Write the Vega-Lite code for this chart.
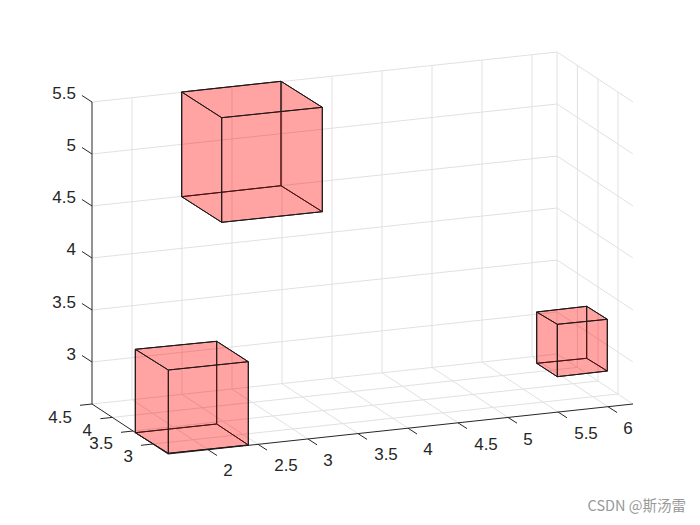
{"$schema":"https://vega.github.io/schema/vega-lite/v6.json","width":700,"height":525,"padding":0,"autosize":{"type":"fit","contains":"padding"},"background":"white","config":{"view":{"stroke":null}},
"datasets":{
"grid":[
{"g":"z5.5","i":0,"u":92,"v":102},{"g":"z5.5","i":1,"u":557,"v":52},{"g":"z5.5","i":2,"u":633,"v":102},
{"g":"z5","i":0,"u":92,"v":154},{"g":"z5","i":1,"u":557,"v":104},{"g":"z5","i":2,"u":633,"v":154},
{"g":"z4.5","i":0,"u":92,"v":206},{"g":"z4.5","i":1,"u":557,"v":156},{"g":"z4.5","i":2,"u":633,"v":206},
{"g":"z4","i":0,"u":92,"v":258},{"g":"z4","i":1,"u":557,"v":208},{"g":"z4","i":2,"u":633,"v":258},
{"g":"z3.5","i":0,"u":92,"v":310},{"g":"z3.5","i":1,"u":557,"v":260},{"g":"z3.5","i":2,"u":633,"v":310},
{"g":"z3","i":0,"u":92,"v":362},{"g":"z3","i":1,"u":557,"v":312},{"g":"z3","i":2,"u":633,"v":362},
{"g":"x2","i":0,"u":132,"v":97.7},{"g":"x2","i":1,"u":132,"v":399.7},{"g":"x2","i":2,"u":208,"v":449.7},
{"g":"x2.5","i":0,"u":182,"v":92.3},{"g":"x2.5","i":1,"u":182,"v":394.3},{"g":"x2.5","i":2,"u":258,"v":444.3},
{"g":"x3","i":0,"u":232,"v":87},{"g":"x3","i":1,"u":232,"v":389},{"g":"x3","i":2,"u":308,"v":439},
{"g":"x3.5","i":0,"u":282,"v":81.6},{"g":"x3.5","i":1,"u":282,"v":383.6},{"g":"x3.5","i":2,"u":358,"v":433.6},
{"g":"x4","i":0,"u":332,"v":76.2},{"g":"x4","i":1,"u":332,"v":378.2},{"g":"x4","i":2,"u":408,"v":428.2},
{"g":"x4.5","i":0,"u":382,"v":70.8},{"g":"x4.5","i":1,"u":382,"v":372.8},{"g":"x4.5","i":2,"u":458,"v":422.8},
{"g":"x5","i":0,"u":432,"v":65.4},{"g":"x5","i":1,"u":432,"v":367.4},{"g":"x5","i":2,"u":508,"v":417.4},
{"g":"x5.5","i":0,"u":482,"v":60},{"g":"x5.5","i":1,"u":482,"v":362},{"g":"x5.5","i":2,"u":558,"v":412},
{"g":"x6","i":0,"u":532,"v":54.7},{"g":"x6","i":1,"u":532,"v":356.7},{"g":"x6","i":2,"u":608,"v":406.7},
{"g":"y4","i":0,"u":112.4,"v":417.4},{"g":"y4","i":1,"u":577.4,"v":367.4},{"g":"y4","i":2,"u":577.4,"v":65.4},
{"g":"y3.5","i":0,"u":133,"v":431},{"g":"y3.5","i":1,"u":598,"v":381},{"g":"y3.5","i":2,"u":598,"v":79},
{"g":"y3","i":0,"u":153,"v":444},{"g":"y3","i":1,"u":618,"v":394},{"g":"y3","i":2,"u":618,"v":92},
{"g":"corner","i":0,"u":557,"v":52},{"g":"corner","i":1,"u":557,"v":354},
{"g":"floor","i":0,"u":92,"v":404},{"g":"floor","i":1,"u":557,"v":354},{"g":"floor","i":2,"u":633,"v":404}
],
"axes":[
{"g":"zaxis","i":0,"u":92,"v":102},{"g":"zaxis","i":1,"u":92,"v":404},{"g":"zaxis","i":2,"u":168,"v":454},{"g":"zaxis","i":3,"u":633,"v":404},
{"g":"tz5.5","i":0,"u":92,"v":102},{"g":"tz5.5","i":1,"u":82,"v":95.5},
{"g":"tz5","i":0,"u":92,"v":154},{"g":"tz5","i":1,"u":82,"v":147.5},
{"g":"tz4.5","i":0,"u":92,"v":206},{"g":"tz4.5","i":1,"u":82,"v":199.5},
{"g":"tz4","i":0,"u":92,"v":258},{"g":"tz4","i":1,"u":82,"v":251.5},
{"g":"tz3.5","i":0,"u":92,"v":310},{"g":"tz3.5","i":1,"u":82,"v":303.5},
{"g":"tz3","i":0,"u":92,"v":362},{"g":"tz3","i":1,"u":82,"v":355.5},
{"g":"ty4.5","i":0,"u":92,"v":404},{"g":"ty4.5","i":1,"u":80,"v":405.3},
{"g":"ty4","i":0,"u":112.4,"v":417.4},{"g":"ty4","i":1,"u":100.4,"v":418.7},
{"g":"ty3.5","i":0,"u":133,"v":431},{"g":"ty3.5","i":1,"u":121,"v":432.3},
{"g":"ty3","i":0,"u":153,"v":444},{"g":"ty3","i":1,"u":141,"v":445.3},
{"g":"tx2","i":0,"u":208,"v":449.7},{"g":"tx2","i":1,"u":217,"v":455.5},
{"g":"tx2.5","i":0,"u":258,"v":444.3},{"g":"tx2.5","i":1,"u":267,"v":450.1},
{"g":"tx3","i":0,"u":308,"v":439},{"g":"tx3","i":1,"u":317,"v":444.8},
{"g":"tx3.5","i":0,"u":358,"v":433.6},{"g":"tx3.5","i":1,"u":367,"v":439.4},
{"g":"tx4","i":0,"u":408,"v":428.2},{"g":"tx4","i":1,"u":417,"v":434},
{"g":"tx4.5","i":0,"u":458,"v":422.8},{"g":"tx4.5","i":1,"u":467,"v":428.6},
{"g":"tx5","i":0,"u":508,"v":417.4},{"g":"tx5","i":1,"u":517,"v":423.2},
{"g":"tx5.5","i":0,"u":558,"v":412},{"g":"tx5.5","i":1,"u":567,"v":417.8},
{"g":"tx6","i":0,"u":608,"v":406.7},{"g":"tx6","i":1,"u":617,"v":412.5}
],
"faces":[
{"g":"a1","i":0,"u":135.3,"v":349.3},{"g":"a1","i":1,"u":216.7,"v":341.3},{"g":"a1","i":2,"u":248.3,"v":361.7},{"g":"a1","i":3,"u":168.3,"v":370},{"g":"a1","i":4,"u":135.3,"v":349.3},
{"g":"a2","i":0,"u":135.3,"v":432.7},{"g":"a2","i":1,"u":216.7,"v":424},{"g":"a2","i":2,"u":248.3,"v":445},{"g":"a2","i":3,"u":168.3,"v":453.3},{"g":"a2","i":4,"u":135.3,"v":432.7},
{"g":"a3","i":0,"u":135.3,"v":349.3},{"g":"a3","i":1,"u":216.7,"v":341.3},{"g":"a3","i":2,"u":216.7,"v":424},{"g":"a3","i":3,"u":135.3,"v":432.7},{"g":"a3","i":4,"u":135.3,"v":349.3},
{"g":"a4","i":0,"u":216.7,"v":341.3},{"g":"a4","i":1,"u":248.3,"v":361.7},{"g":"a4","i":2,"u":248.3,"v":445},{"g":"a4","i":3,"u":216.7,"v":424},{"g":"a4","i":4,"u":216.7,"v":341.3},
{"g":"a5","i":0,"u":248.3,"v":361.7},{"g":"a5","i":1,"u":168.3,"v":370},{"g":"a5","i":2,"u":168.3,"v":453.3},{"g":"a5","i":3,"u":248.3,"v":445},{"g":"a5","i":4,"u":248.3,"v":361.7},
{"g":"a6","i":0,"u":168.3,"v":370},{"g":"a6","i":1,"u":135.3,"v":349.3},{"g":"a6","i":2,"u":135.3,"v":432.7},{"g":"a6","i":3,"u":168.3,"v":453.3},{"g":"a6","i":4,"u":168.3,"v":370},
{"g":"b1","i":0,"u":181.7,"v":92},{"g":"b1","i":1,"u":281,"v":81.3},{"g":"b1","i":2,"u":322.3,"v":107.3},{"g":"b1","i":3,"u":221.7,"v":117.7},{"g":"b1","i":4,"u":181.7,"v":92},
{"g":"b2","i":0,"u":181.7,"v":196.7},{"g":"b2","i":1,"u":281,"v":185.7},{"g":"b2","i":2,"u":322.3,"v":211.7},{"g":"b2","i":3,"u":221.7,"v":222.3},{"g":"b2","i":4,"u":181.7,"v":196.7},
{"g":"b3","i":0,"u":181.7,"v":92},{"g":"b3","i":1,"u":281,"v":81.3},{"g":"b3","i":2,"u":281,"v":185.7},{"g":"b3","i":3,"u":181.7,"v":196.7},{"g":"b3","i":4,"u":181.7,"v":92},
{"g":"b4","i":0,"u":281,"v":81.3},{"g":"b4","i":1,"u":322.3,"v":107.3},{"g":"b4","i":2,"u":322.3,"v":211.7},{"g":"b4","i":3,"u":281,"v":185.7},{"g":"b4","i":4,"u":281,"v":81.3},
{"g":"b5","i":0,"u":322.3,"v":107.3},{"g":"b5","i":1,"u":221.7,"v":117.7},{"g":"b5","i":2,"u":221.7,"v":222.3},{"g":"b5","i":3,"u":322.3,"v":211.7},{"g":"b5","i":4,"u":322.3,"v":107.3},
{"g":"b6","i":0,"u":221.7,"v":117.7},{"g":"b6","i":1,"u":181.7,"v":92},{"g":"b6","i":2,"u":181.7,"v":196.7},{"g":"b6","i":3,"u":221.7,"v":222.3},{"g":"b6","i":4,"u":221.7,"v":117.7},
{"g":"c1","i":0,"u":536.7,"v":312},{"g":"c1","i":1,"u":586.7,"v":306.3},{"g":"c1","i":2,"u":607.3,"v":319.3},{"g":"c1","i":3,"u":557.3,"v":324.3},{"g":"c1","i":4,"u":536.7,"v":312},
{"g":"c2","i":0,"u":536.7,"v":363.3},{"g":"c2","i":1,"u":586.7,"v":358.3},{"g":"c2","i":2,"u":607.3,"v":371},{"g":"c2","i":3,"u":557.3,"v":376.7},{"g":"c2","i":4,"u":536.7,"v":363.3},
{"g":"c3","i":0,"u":536.7,"v":312},{"g":"c3","i":1,"u":586.7,"v":306.3},{"g":"c3","i":2,"u":586.7,"v":358.3},{"g":"c3","i":3,"u":536.7,"v":363.3},{"g":"c3","i":4,"u":536.7,"v":312},
{"g":"c4","i":0,"u":586.7,"v":306.3},{"g":"c4","i":1,"u":607.3,"v":319.3},{"g":"c4","i":2,"u":607.3,"v":371},{"g":"c4","i":3,"u":586.7,"v":358.3},{"g":"c4","i":4,"u":586.7,"v":306.3},
{"g":"c5","i":0,"u":607.3,"v":319.3},{"g":"c5","i":1,"u":557.3,"v":324.3},{"g":"c5","i":2,"u":557.3,"v":376.7},{"g":"c5","i":3,"u":607.3,"v":371},{"g":"c5","i":4,"u":607.3,"v":319.3},
{"g":"c6","i":0,"u":557.3,"v":324.3},{"g":"c6","i":1,"u":536.7,"v":312},{"g":"c6","i":2,"u":536.7,"v":363.3},{"g":"c6","i":3,"u":557.3,"v":376.7},{"g":"c6","i":4,"u":557.3,"v":324.3}
],
"rightLabels":[
{"t":"5.5","u":76,"v":93},{"t":"5","u":76,"v":145},{"t":"4.5","u":76,"v":197},{"t":"4","u":76,"v":249},{"t":"3.5","u":76,"v":302},{"t":"3","u":76,"v":354},
{"t":"4.5","u":72,"v":417},{"t":"4","u":92,"v":430},{"t":"3.5","u":113,"v":443},{"t":"3","u":133,"v":456}
],
"centerLabels":[
{"t":"2","u":228,"v":470},{"t":"2.5","u":286,"v":465},{"t":"3","u":328,"v":460},{"t":"3.5","u":386,"v":454},{"t":"4","u":428,"v":449},{"t":"4.5","u":486,"v":444},{"t":"5","u":528,"v":439},{"t":"5.5","u":586,"v":433},{"t":"6","u":628,"v":428}
],
"mark":[{"t":"CSDN @斯汤雷","u":686,"v":507}]
},
"encoding":{
"x":{"field":"u","type":"quantitative","axis":null,"scale":{"domain":[0,700],"nice":false,"zero":false}},
"y":{"field":"v","type":"quantitative","axis":null,"scale":{"domain":[525,0],"nice":false,"zero":false}}
},
"layer":[
{"data":{"name":"grid"},"mark":{"type":"line","stroke":"#e1e1e1","strokeWidth":1,"interpolate":"linear"},"encoding":{"detail":{"field":"g"},"order":{"field":"i"}}},
{"data":{"name":"axes"},"mark":{"type":"line","stroke":"#262626","strokeWidth":1,"interpolate":"linear"},"encoding":{"detail":{"field":"g"},"order":{"field":"i"}}},
{"data":{"name":"faces"},"mark":{"type":"line","stroke":"#1a1a1a","strokeWidth":1,"fill":"#ff0000","fillOpacity":0.2,"interpolate":"linear"},"encoding":{"detail":{"field":"g"},"order":{"field":"i"}}},
{"data":{"name":"rightLabels"},"mark":{"type":"text","align":"right","baseline":"middle","dy":1,"font":"Liberation Sans","fontSize":17,"fill":"#262626"},"encoding":{"text":{"field":"t"}}},
{"data":{"name":"centerLabels"},"mark":{"type":"text","align":"center","baseline":"middle","dy":1,"font":"Liberation Sans","fontSize":17,"fill":"#262626"},"encoding":{"text":{"field":"t"}}},
{"data":{"name":"mark"},"mark":{"type":"text","align":"right","baseline":"middle","font":"Noto Sans CJK SC","fontSize":14.5,"fill":"#999999"},"encoding":{"text":{"field":"t"}}}
]}
